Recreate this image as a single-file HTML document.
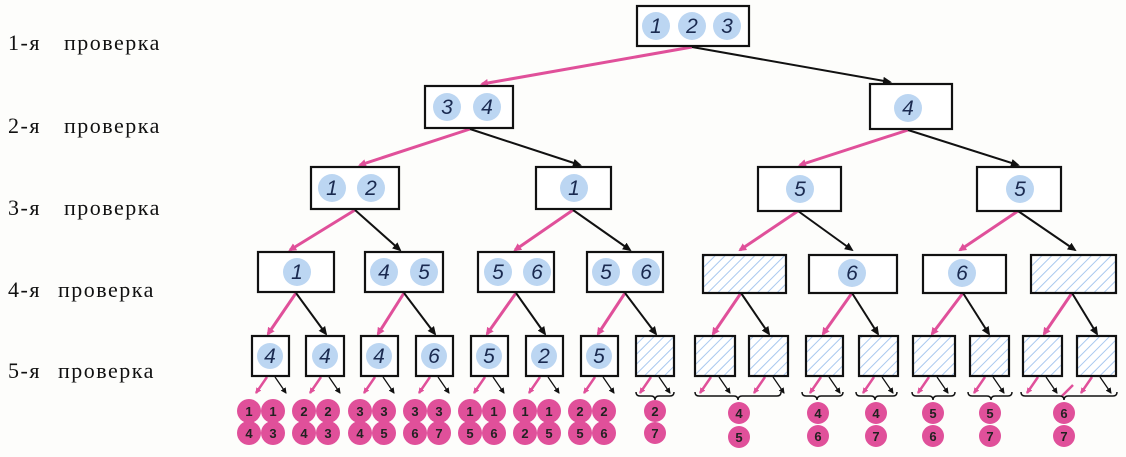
<!DOCTYPE html>
<html><head><meta charset="utf-8"><style>
html,body{margin:0;padding:0;background:#fdfdfb;}
svg{display:block}
.lbl{font-family:"Liberation Serif",serif;font-size:22px;fill:#111;letter-spacing:1.5px;}
.d{font-family:"Liberation Sans",sans-serif;font-style:italic;font-size:21px;fill:#1a2a50;text-anchor:middle;}
.p{font-family:"Liberation Sans",sans-serif;font-weight:bold;font-size:13px;fill:#222;text-anchor:middle;}
.b{fill:#fff;stroke:#111;stroke-width:2.2}
.h{fill:url(#hatch);stroke:#111;stroke-width:2.2}
.c{fill:#bcd6f2}
.pc{fill:#e0509a}
.pk{stroke:#e0509a;stroke-width:3;fill:none}
.bk{stroke:#111;stroke-width:2;fill:none}
.br{stroke:#111;stroke-width:1.5;fill:none}
.sp{stroke:#e0509a;stroke-width:2.5;fill:none}
.sk{stroke:#111;stroke-width:1.3;fill:none}
</style></head><body>
<svg width="1126" height="457" viewBox="0 0 1126 457">
<defs>
<pattern id="hatch" patternUnits="userSpaceOnUse" width="7" height="7" patternTransform="rotate(45)">
<rect width="7" height="7" fill="#fff"/><line x1="0" y1="0" x2="0" y2="7" stroke="#a9c8ef" stroke-width="2"/>
</pattern>
<marker id="mp" markerWidth="8" markerHeight="8" refX="6" refY="4" orient="auto" markerUnits="userSpaceOnUse"><path d="M0,0 L8,4 L0,8 z" fill="#e0509a"/></marker>
<marker id="mk" markerWidth="9" markerHeight="8" refX="7" refY="4" orient="auto" markerUnits="userSpaceOnUse"><path d="M0,0 L9,4 L0,8 z" fill="#111"/></marker>
<marker id="mps" markerWidth="6" markerHeight="6" refX="5" refY="3" orient="auto" markerUnits="userSpaceOnUse"><path d="M0,0 L6,3 L0,6 z" fill="#e0509a"/></marker>
<marker id="mks" markerWidth="6" markerHeight="6" refX="5" refY="3" orient="auto" markerUnits="userSpaceOnUse"><path d="M0,0 L6,3 L0,6 z" fill="#111"/></marker>
</defs>

<text class="lbl" x="8" y="50">1-я</text><text class="lbl" x="64" y="50">проверка</text>
<text class="lbl" x="8" y="133">2-я</text><text class="lbl" x="64" y="133">проверка</text>
<text class="lbl" x="8" y="215">3-я</text><text class="lbl" x="64" y="215">проверка</text>
<text class="lbl" x="8" y="297">4-я</text><text class="lbl" x="58" y="297">проверка</text>
<text class="lbl" x="8" y="378">5-я</text><text class="lbl" x="58" y="378">проверка</text>

<line class="pk" x1="692" y1="47" x2="482" y2="84" marker-end="url(#mp)"/>
<line class="bk" x1="692" y1="47" x2="890" y2="82" marker-end="url(#mk)"/>
<line class="pk" x1="470" y1="129" x2="360" y2="165" marker-end="url(#mp)"/>
<line class="bk" x1="470" y1="129" x2="580" y2="165" marker-end="url(#mk)"/>
<line class="pk" x1="908" y1="130" x2="800" y2="165" marker-end="url(#mp)"/>
<line class="bk" x1="908" y1="130" x2="1018" y2="165" marker-end="url(#mk)"/>
<line class="pk" x1="355" y1="210" x2="290" y2="250" marker-end="url(#mp)"/>
<line class="bk" x1="355" y1="210" x2="400" y2="250" marker-end="url(#mk)"/>
<line class="pk" x1="573" y1="210" x2="515" y2="250" marker-end="url(#mp)"/>
<line class="bk" x1="573" y1="210" x2="630" y2="250" marker-end="url(#mk)"/>
<line class="pk" x1="798" y1="211" x2="740" y2="250" marker-end="url(#mp)"/>
<line class="bk" x1="798" y1="211" x2="852" y2="250" marker-end="url(#mk)"/>
<line class="pk" x1="1018" y1="211" x2="960" y2="250" marker-end="url(#mp)"/>
<line class="bk" x1="1018" y1="211" x2="1075" y2="250" marker-end="url(#mk)"/>
<line class="pk" x1="296" y1="293" x2="268" y2="334" marker-end="url(#mp)"/>
<line class="bk" x1="296" y1="293" x2="326" y2="334" marker-end="url(#mk)"/>
<line class="pk" x1="404" y1="293" x2="378" y2="334" marker-end="url(#mp)"/>
<line class="bk" x1="404" y1="293" x2="435" y2="334" marker-end="url(#mk)"/>
<line class="pk" x1="516" y1="293" x2="487" y2="334" marker-end="url(#mp)"/>
<line class="bk" x1="516" y1="293" x2="545" y2="334" marker-end="url(#mk)"/>
<line class="pk" x1="625" y1="293" x2="598" y2="334" marker-end="url(#mp)"/>
<line class="bk" x1="625" y1="293" x2="656" y2="334" marker-end="url(#mk)"/>
<line class="pk" x1="741" y1="293" x2="713" y2="334" marker-end="url(#mp)"/>
<line class="bk" x1="741" y1="293" x2="769" y2="334" marker-end="url(#mk)"/>
<line class="pk" x1="852" y1="293" x2="823" y2="334" marker-end="url(#mp)"/>
<line class="bk" x1="852" y1="293" x2="878" y2="334" marker-end="url(#mk)"/>
<line class="pk" x1="963" y1="293" x2="932" y2="334" marker-end="url(#mp)"/>
<line class="bk" x1="963" y1="293" x2="989" y2="334" marker-end="url(#mk)"/>
<line class="pk" x1="1072" y1="293" x2="1044" y2="334" marker-end="url(#mp)"/>
<line class="bk" x1="1072" y1="293" x2="1097" y2="334" marker-end="url(#mk)"/>

<line class="sp" x1="267" y1="377" x2="256" y2="393" marker-end="url(#mps)"/><line class="sk" x1="275" y1="377" x2="286" y2="393" marker-end="url(#mks)"/>
<line class="sp" x1="321" y1="377" x2="310" y2="393" marker-end="url(#mps)"/><line class="sk" x1="329" y1="377" x2="340" y2="393" marker-end="url(#mks)"/>
<line class="sp" x1="375" y1="377" x2="364" y2="393" marker-end="url(#mps)"/><line class="sk" x1="383" y1="377" x2="394" y2="393" marker-end="url(#mks)"/>
<line class="sp" x1="430" y1="377" x2="419" y2="393" marker-end="url(#mps)"/><line class="sk" x1="438" y1="377" x2="449" y2="393" marker-end="url(#mks)"/>
<line class="sp" x1="485" y1="377" x2="474" y2="393" marker-end="url(#mps)"/><line class="sk" x1="493" y1="377" x2="504" y2="393" marker-end="url(#mks)"/>
<line class="sp" x1="540" y1="377" x2="529" y2="393" marker-end="url(#mps)"/><line class="sk" x1="548" y1="377" x2="559" y2="393" marker-end="url(#mks)"/>
<line class="sp" x1="595" y1="377" x2="584" y2="393" marker-end="url(#mps)"/><line class="sk" x1="603" y1="377" x2="614" y2="393" marker-end="url(#mks)"/>
<line class="sp" x1="651" y1="377" x2="640" y2="393" marker-end="url(#mps)"/><line class="sk" x1="659" y1="377" x2="670" y2="393" marker-end="url(#mks)"/>
<line class="sp" x1="711" y1="377" x2="700" y2="393" marker-end="url(#mps)"/><line class="sk" x1="719" y1="377" x2="730" y2="393" marker-end="url(#mks)"/>
<line class="sp" x1="765" y1="377" x2="754" y2="393" marker-end="url(#mps)"/><line class="sk" x1="773" y1="377" x2="784" y2="393" marker-end="url(#mks)"/>
<line class="sp" x1="821" y1="377" x2="810" y2="393" marker-end="url(#mps)"/><line class="sk" x1="829" y1="377" x2="840" y2="393" marker-end="url(#mks)"/>
<line class="sp" x1="874" y1="377" x2="863" y2="393" marker-end="url(#mps)"/><line class="sk" x1="882" y1="377" x2="893" y2="393" marker-end="url(#mks)"/>
<line class="sp" x1="929" y1="377" x2="918" y2="393" marker-end="url(#mps)"/><line class="sk" x1="937" y1="377" x2="948" y2="393" marker-end="url(#mks)"/>
<line class="sp" x1="985" y1="377" x2="974" y2="393" marker-end="url(#mps)"/><line class="sk" x1="993" y1="377" x2="1004" y2="393" marker-end="url(#mks)"/>
<line class="sp" x1="1038" y1="377" x2="1027" y2="393" marker-end="url(#mps)"/><line class="sk" x1="1046" y1="377" x2="1057" y2="393" marker-end="url(#mks)"/>
<line class="sp" x1="1092" y1="377" x2="1081" y2="393" marker-end="url(#mps)"/><line class="sk" x1="1100" y1="377" x2="1111" y2="393" marker-end="url(#mks)"/>
<line class="sp" x1="1073" y1="385" x2="1062" y2="396"/>

<path class="br" d="M636,392 q0,4 4,4 h11 q4,0 4,4 q0,-4 4,-4 h11 q4,0 4,-4"/>
<path class="br" d="M695,392 q0,4 4,4 h35 q4,0 4,4 q0,-4 4,-4 h35 q4,0 4,-4"/>
<path class="br" d="M802,392 q0,4 4,4 h7 q4,0 4,4 q0,-4 4,-4 h18 q4,0 4,-4"/>
<path class="br" d="M856,392 q0,4 4,4 h11 q4,0 4,4 q0,-4 4,-4 h14 q4,0 4,-4"/>
<path class="br" d="M912,392 q0,4 4,4 h13 q4,0 4,4 q0,-4 4,-4 h14 q4,0 4,-4"/>
<path class="br" d="M968,392 q0,4 4,4 h15 q4,0 4,4 q0,-4 4,-4 h13 q4,0 4,-4"/>
<path class="br" d="M1021,392 q0,4 4,4 h35 q4,0 4,4 q0,-4 4,-4 h45 q4,0 4,-4"/>

<rect class="b" x="637" y="6" width="112" height="40"/>
<circle class="c" cx="656" cy="26" r="14"/><text class="d" x="656" y="33">1</text>
<circle class="c" cx="692" cy="26" r="14"/><text class="d" x="692" y="33">2</text>
<circle class="c" cx="727" cy="26" r="14"/><text class="d" x="727" y="33">3</text>
<rect class="b" x="425" y="86" width="88" height="42"/>
<circle class="c" cx="447" cy="107" r="14"/><text class="d" x="447" y="114">3</text>
<circle class="c" cx="487" cy="107" r="14"/><text class="d" x="487" y="114">4</text>
<rect class="b" x="870" y="84" width="82" height="45"/>
<circle class="c" cx="908" cy="108" r="14"/><text class="d" x="908" y="115">4</text>
<rect class="b" x="311" y="167" width="88" height="42"/>
<circle class="c" cx="332" cy="188" r="14"/><text class="d" x="332" y="195">1</text>
<circle class="c" cx="371" cy="188" r="14"/><text class="d" x="371" y="195">2</text>
<rect class="b" x="536" y="167" width="75" height="42"/>
<circle class="c" cx="574" cy="188" r="14"/><text class="d" x="574" y="195">1</text>
<rect class="b" x="758" y="167" width="83" height="44"/>
<circle class="c" cx="800" cy="189" r="14"/><text class="d" x="800" y="196">5</text>
<rect class="b" x="977" y="167" width="84" height="44"/>
<circle class="c" cx="1020" cy="189" r="14"/><text class="d" x="1020" y="196">5</text>
<rect class="b" x="258" y="252" width="76" height="40"/>
<circle class="c" cx="297" cy="272" r="14"/><text class="d" x="297" y="279">1</text>
<rect class="b" x="365" y="252" width="78" height="40"/>
<circle class="c" cx="384" cy="272" r="14"/><text class="d" x="384" y="279">4</text>
<circle class="c" cx="424" cy="272" r="14"/><text class="d" x="424" y="279">5</text>
<rect class="b" x="478" y="252" width="76" height="40"/>
<circle class="c" cx="498" cy="272" r="14"/><text class="d" x="498" y="279">5</text>
<circle class="c" cx="537" cy="272" r="14"/><text class="d" x="537" y="279">6</text>
<rect class="b" x="587" y="252" width="76" height="40"/>
<circle class="c" cx="606" cy="272" r="14"/><text class="d" x="606" y="279">5</text>
<circle class="c" cx="646" cy="272" r="14"/><text class="d" x="646" y="279">6</text>
<rect class="h" x="703" y="255" width="83" height="38"/>
<rect class="b" x="809" y="255" width="88" height="38"/>
<circle class="c" cx="852" cy="273" r="14"/><text class="d" x="852" y="280">6</text>
<rect class="b" x="923" y="255" width="83" height="38"/>
<circle class="c" cx="962" cy="273" r="14"/><text class="d" x="962" y="280">6</text>
<rect class="h" x="1031" y="255" width="85" height="38"/>
<rect class="b" x="252" y="336" width="37" height="40"/><circle class="c" cx="270" cy="356" r="13"/><text class="d" x="270" y="363">4</text>
<rect class="b" x="306" y="336" width="38" height="40"/><circle class="c" cx="325" cy="356" r="13"/><text class="d" x="325" y="363">4</text>
<rect class="b" x="361" y="336" width="37" height="40"/><circle class="c" cx="379" cy="356" r="13"/><text class="d" x="379" y="363">4</text>
<rect class="b" x="416" y="336" width="37" height="40"/><circle class="c" cx="434" cy="356" r="13"/><text class="d" x="434" y="363">6</text>
<rect class="b" x="471" y="336" width="37" height="40"/><circle class="c" cx="489" cy="356" r="13"/><text class="d" x="489" y="363">5</text>
<rect class="b" x="526" y="336" width="37" height="40"/><circle class="c" cx="544" cy="356" r="13"/><text class="d" x="544" y="363">2</text>
<rect class="b" x="581" y="336" width="37" height="40"/><circle class="c" cx="599" cy="356" r="13"/><text class="d" x="599" y="363">5</text>
<rect class="h" x="636" y="336" width="38" height="40"/>
<rect class="h" x="695" y="336" width="40" height="40"/>
<rect class="h" x="749" y="336" width="39" height="40"/>
<rect class="h" x="806" y="336" width="37" height="40"/>
<rect class="h" x="859" y="336" width="39" height="40"/>
<rect class="h" x="913" y="336" width="42" height="40"/>
<rect class="h" x="970" y="336" width="39" height="40"/>
<rect class="h" x="1023" y="336" width="39" height="40"/>
<rect class="h" x="1077" y="336" width="39" height="40"/>

<circle class="pc" cx="249" cy="411" r="12"/><text class="p" x="249" y="416">1</text>
<circle class="pc" cx="273" cy="411" r="12"/><text class="p" x="273" y="416">1</text>
<circle class="pc" cx="249" cy="433" r="12"/><text class="p" x="249" y="438">4</text>
<circle class="pc" cx="273" cy="433" r="12"/><text class="p" x="273" y="438">3</text>
<circle class="pc" cx="304" cy="411" r="12"/><text class="p" x="304" y="416">2</text>
<circle class="pc" cx="328" cy="411" r="12"/><text class="p" x="328" y="416">2</text>
<circle class="pc" cx="304" cy="433" r="12"/><text class="p" x="304" y="438">4</text>
<circle class="pc" cx="328" cy="433" r="12"/><text class="p" x="328" y="438">3</text>
<circle class="pc" cx="360" cy="411" r="12"/><text class="p" x="360" y="416">3</text>
<circle class="pc" cx="384" cy="411" r="12"/><text class="p" x="384" y="416">3</text>
<circle class="pc" cx="360" cy="433" r="12"/><text class="p" x="360" y="438">4</text>
<circle class="pc" cx="384" cy="433" r="12"/><text class="p" x="384" y="438">5</text>
<circle class="pc" cx="415" cy="411" r="12"/><text class="p" x="415" y="416">3</text>
<circle class="pc" cx="439" cy="411" r="12"/><text class="p" x="439" y="416">3</text>
<circle class="pc" cx="415" cy="433" r="12"/><text class="p" x="415" y="438">6</text>
<circle class="pc" cx="439" cy="433" r="12"/><text class="p" x="439" y="438">7</text>
<circle class="pc" cx="470" cy="411" r="12"/><text class="p" x="470" y="416">1</text>
<circle class="pc" cx="494" cy="411" r="12"/><text class="p" x="494" y="416">1</text>
<circle class="pc" cx="470" cy="433" r="12"/><text class="p" x="470" y="438">5</text>
<circle class="pc" cx="494" cy="433" r="12"/><text class="p" x="494" y="438">6</text>
<circle class="pc" cx="525" cy="411" r="12"/><text class="p" x="525" y="416">1</text>
<circle class="pc" cx="549" cy="411" r="12"/><text class="p" x="549" y="416">1</text>
<circle class="pc" cx="525" cy="433" r="12"/><text class="p" x="525" y="438">2</text>
<circle class="pc" cx="549" cy="433" r="12"/><text class="p" x="549" y="438">5</text>
<circle class="pc" cx="580" cy="411" r="12"/><text class="p" x="580" y="416">2</text>
<circle class="pc" cx="604" cy="411" r="12"/><text class="p" x="604" y="416">2</text>
<circle class="pc" cx="580" cy="433" r="12"/><text class="p" x="580" y="438">5</text>
<circle class="pc" cx="604" cy="433" r="12"/><text class="p" x="604" y="438">6</text>
<circle class="pc" cx="655" cy="411" r="11"/><text class="p" x="655" y="416">2</text>
<circle class="pc" cx="655" cy="433" r="11"/><text class="p" x="655" y="438">7</text>
<circle class="pc" cx="739" cy="413" r="11"/><text class="p" x="739" y="418">4</text>
<circle class="pc" cx="739" cy="437" r="11"/><text class="p" x="739" y="442">5</text>
<circle class="pc" cx="818" cy="413" r="11"/><text class="p" x="818" y="418">4</text>
<circle class="pc" cx="818" cy="436" r="11"/><text class="p" x="818" y="441">6</text>
<circle class="pc" cx="876" cy="413" r="11"/><text class="p" x="876" y="418">4</text>
<circle class="pc" cx="876" cy="436" r="11"/><text class="p" x="876" y="441">7</text>
<circle class="pc" cx="933" cy="413" r="11"/><text class="p" x="933" y="418">5</text>
<circle class="pc" cx="933" cy="436" r="11"/><text class="p" x="933" y="441">6</text>
<circle class="pc" cx="990" cy="413" r="11"/><text class="p" x="990" y="418">5</text>
<circle class="pc" cx="990" cy="436" r="11"/><text class="p" x="990" y="441">7</text>
<circle class="pc" cx="1064" cy="413" r="11"/><text class="p" x="1064" y="418">6</text>
<circle class="pc" cx="1064" cy="436" r="11"/><text class="p" x="1064" y="441">7</text>
</svg>
</body></html>
